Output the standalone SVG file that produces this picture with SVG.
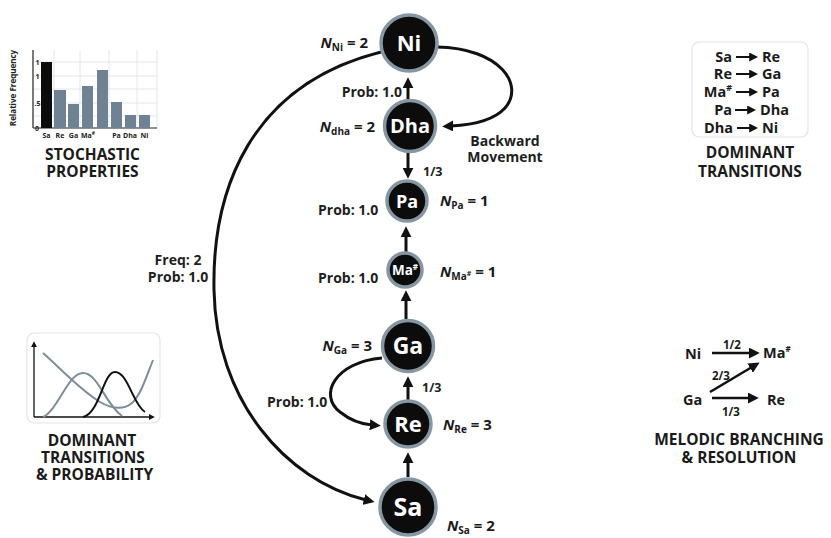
<svg xmlns="http://www.w3.org/2000/svg" width="831" height="538" viewBox="0 0 831 538">
  <defs>
    <style>
      text { font-family: "Open Sans", "Liberation Sans", sans-serif; font-weight: 700; }
      .lbl { font-size: 14px; fill: #1e1e1e; }
      .nlab { font-size: 15px; fill: #1a1a1a; }
      .nlab .it { font-style: italic; }
      .sub { font-size: 10px; }
      .title { font-size: 15.5px; fill: #1a1a1a; text-anchor: middle; }
      .node circle { fill: #0c0c0c; stroke: #8796a3; stroke-width: 3.5; }
      .node text { fill: #ffffff; text-anchor: middle; }
      .edge { fill: none; stroke: #111; stroke-width: 3; }
      .bar { fill: #6e8293; }
      .grid { stroke: #e2e6ea; stroke-width: 1; }
      .panel { fill: #ffffff; stroke: #e4e4e4; stroke-width: 1.2; }
      .side { font-size: 14.5px; fill: #1a1a1a; }
      .small { font-size: 11.5px; fill: #1a1a1a; }
    </style>
    <marker id="head" viewBox="0 0 10 10" refX="2" refY="5" markerWidth="11" markerHeight="11" markerUnits="userSpaceOnUse" orient="auto">
      <path d="M0,0 L10,5 L0,10 z" fill="#111"/>
    </marker>
    <marker id="headSm" viewBox="0 0 10 10" refX="2" refY="5" markerWidth="9" markerHeight="9" markerUnits="userSpaceOnUse" orient="auto">
      <path d="M0,0 L10,5 L0,10 z" fill="#111"/>
    </marker>
    <marker id="axisHead" viewBox="0 0 10 10" refX="2" refY="5" markerWidth="6" markerHeight="6" markerUnits="userSpaceOnUse" orient="auto">
      <path d="M0,0 L10,5 L0,10 z" fill="#111"/>
    </marker>
  </defs>

  <rect width="831" height="538" fill="#ffffff"/>

  <!-- Bar chart: stochastic properties -->
  <g id="stochastic-properties">
    <g class="grid">
      <line x1="33" y1="62" x2="157" y2="62"/>
      <line x1="33" y1="76" x2="157" y2="76"/>
      <line x1="33" y1="89" x2="157" y2="89"/>
      <line x1="33" y1="103" x2="157" y2="103"/>
      <line x1="33" y1="116" x2="157" y2="116"/>
      <line x1="54" y1="50" x2="54" y2="128"/>
      <line x1="80" y1="50" x2="80" y2="128"/>
      <line x1="109" y1="50" x2="109" y2="128"/>
      <line x1="137" y1="50" x2="137" y2="128"/>
      <line x1="157" y1="50" x2="157" y2="128"/>
    </g>
    <line x1="33" y1="50" x2="33" y2="128" stroke="#222" stroke-width="1.2"/>
    <line x1="33" y1="128" x2="157" y2="128" stroke="#222" stroke-width="1.2"/>
    <rect x="41" y="62" width="11" height="66" fill="#0c0c0c"/>
    <rect class="bar" x="54" y="90" width="12" height="38"/>
    <rect class="bar" x="68" y="104" width="11" height="24"/>
    <rect class="bar" x="82" y="86" width="11" height="42"/>
    <rect class="bar" x="97" y="70" width="11" height="58"/>
    <rect class="bar" x="111" y="102" width="11" height="26"/>
    <rect class="bar" x="125" y="115" width="11" height="13"/>
    <rect class="bar" x="139" y="115" width="11" height="13"/>
    <g font-size="7" fill="#222">
      <text x="35.5" y="65">1</text>
      <text x="35.5" y="79">1</text>
      <text x="34.5" y="106">.5</text>
      <text x="35" y="131">0</text>
    </g>
    <g font-size="7" fill="#222" text-anchor="middle">
      <text x="46.5" y="138">Sa</text>
      <text x="60" y="138">Re</text>
      <text x="73.5" y="138">Ga</text>
      <text x="88" y="138">Ma<tspan font-size="5" dy="-3">#</tspan></text>
      <text x="116.5" y="138">Pa</text>
      <text x="130" y="138">Dha</text>
      <text x="144.5" y="138">Ni</text>
    </g>
    <text transform="translate(16,88) rotate(-90)" font-size="8" fill="#222" text-anchor="middle">Relative Frequency</text>
    <text class="title" x="92.5" y="160">STOCHASTIC</text>
    <text class="title" x="92.5" y="177">PROPERTIES</text>
  </g>

  <!-- Curves panel: dominant transitions & probability -->
  <g id="dominant-probability">
    <rect class="panel" x="27" y="333" width="133" height="90" rx="7"/>
    <line x1="34" y1="417" x2="34" y2="346" stroke="#111" stroke-width="1.3" marker-end="url(#axisHead)"/>
    <line x1="34" y1="417" x2="150" y2="417" stroke="#111" stroke-width="1.3" marker-end="url(#axisHead)"/>
    <path d="M43,353 C60,368 80,390 100,402 C112,409 124,410 132,403 C141,395 147,375 153,360" fill="none" stroke="#7d8e9b" stroke-width="2"/>
    <path d="M43,417 C58,410 68,373 83,373 C98,373 105,404 122,416" fill="none" stroke="#7d8e9b" stroke-width="2"/>
    <path d="M83,417 C100,413 103,372 115,372 C128,372 133,405 145,412" fill="none" stroke="#111" stroke-width="2"/>
    <text class="title" x="92" y="446">DOMINANT</text>
    <text class="title" x="93" y="463">TRANSITIONS</text>
    <text class="title" x="94.5" y="480">&amp; PROBABILITY</text>
  </g>

  <!-- Transition list panel -->
  <g id="dominant-transitions">
    <rect class="panel" x="692" y="42" width="116" height="95" rx="7"/>
    <g class="side" text-anchor="end">
      <text x="732" y="62">Sa</text>
      <text x="732" y="79">Re</text>
      <text x="732" y="97">Ma<tspan font-size="9" dy="-6">#</tspan></text>
      <text x="732" y="115">Pa</text>
      <text x="733" y="133">Dha</text>
    </g>
    <g class="side">
      <text x="762" y="62">Re</text>
      <text x="762" y="79">Ga</text>
      <text x="762" y="97">Pa</text>
      <text x="760" y="115">Dha</text>
      <text x="762" y="133">Ni</text>
    </g>
    <g stroke="#111" stroke-width="2" fill="none">
      <line x1="736" y1="57" x2="751" y2="57" marker-end="url(#headSm)"/>
      <line x1="736" y1="74" x2="751" y2="74" marker-end="url(#headSm)"/>
      <line x1="736" y1="92" x2="751" y2="92" marker-end="url(#headSm)"/>
      <line x1="735" y1="110" x2="749" y2="110" marker-end="url(#headSm)"/>
      <line x1="737" y1="128" x2="751" y2="128" marker-end="url(#headSm)"/>
    </g>
    <text class="title" x="750" y="158">DOMINANT</text>
    <text class="title" x="750" y="177">TRANSITIONS</text>
  </g>

  <!-- Branching panel -->
  <g id="melodic-branching">
    <g class="side" font-size="14">
      <text x="685" y="359">Ni</text>
      <text x="763" y="358">Ma<tspan font-size="8" dy="-6">#</tspan></text>
      <text x="683" y="405">Ga</text>
      <text x="767" y="405">Re</text>
    </g>
    <g class="small" text-anchor="middle">
      <text x="732" y="349">1/2</text>
      <text x="721" y="380">2/3</text>
      <text x="731" y="416">1/3</text>
    </g>
    <g stroke="#111" stroke-width="2.6" fill="none">
      <line x1="712" y1="353" x2="751" y2="353" marker-end="url(#head)"/>
      <line x1="710" y1="392" x2="752" y2="367" marker-end="url(#head)"/>
      <line x1="712" y1="398" x2="750" y2="398" marker-end="url(#head)"/>
    </g>
    <text class="title" x="739" y="445">MELODIC BRANCHING</text>
    <text class="title" x="739" y="463">&amp; RESOLUTION</text>
  </g>

  <!-- Connectors between notes -->
  <g id="connectors">
    <line class="edge" x1="408" y1="99" x2="408" y2="86" marker-end="url(#head)"/>
    <line class="edge" x1="408" y1="153" x2="408" y2="170" marker-end="url(#head)"/>
    <line class="edge" x1="406" y1="252" x2="406" y2="235" marker-end="url(#head)"/>
    <line class="edge" x1="406" y1="319" x2="406" y2="299" marker-end="url(#head)"/>
    <line class="edge" x1="408" y1="400" x2="408" y2="385" marker-end="url(#head)"/>
    <line class="edge" x1="408" y1="477" x2="408" y2="461" marker-end="url(#head)"/>
    <path class="edge" d="M437,47 C500,48 525,85 505,108 C494,120 472,125 451,126" marker-end="url(#head)"/>
    <path class="edge" d="M381,52 C250,85 212,190 214,290 C216,400 285,480 366,500" marker-end="url(#head)"/>
    <path class="edge" d="M382,358 C335,362 318,395 340,412 C350,420 360,424 372,425" marker-end="url(#head)"/>
  </g>

  <!-- Edge labels -->
  <g id="edge-labels" class="lbl">
    <text x="402" y="97" text-anchor="end">Prob: 1.0</text>
    <text x="423" y="176" font-size="12.5">1/3</text>
    <text x="318" y="215">Prob: 1.0</text>
    <text x="318" y="283">Prob: 1.0</text>
    <text x="422" y="392" font-size="12.5">1/3</text>
    <text x="267" y="407">Prob: 1.0</text>
    <text x="178" y="265" text-anchor="middle">Freq: 2</text>
    <text x="178" y="282" text-anchor="middle">Prob: 1.0</text>
    <text x="505" y="146" text-anchor="middle">Backward</text>
    <text x="505" y="162" text-anchor="middle">Movement</text>
  </g>

  <!-- Occurrence counts -->
  <g id="counts" class="nlab">
    <text x="368" y="48" text-anchor="end"><tspan class="it">N</tspan><tspan class="sub" dy="3">Ni</tspan><tspan dy="-3"> = 2</tspan></text>
    <text x="375" y="132" text-anchor="end"><tspan class="it">N</tspan><tspan class="sub" dy="3">dha</tspan><tspan dy="-3"> = 2</tspan></text>
    <text x="440" y="206"><tspan class="it">N</tspan><tspan class="sub" dy="3">Pa</tspan><tspan dy="-3"> = 1</tspan></text>
    <text x="440" y="277"><tspan class="it">N</tspan><tspan class="sub" dy="3">Ma</tspan><tspan font-size="7" dy="-4">#</tspan><tspan dy="1"> = 1</tspan></text>
    <text x="372" y="351" text-anchor="end"><tspan class="it">N</tspan><tspan class="sub" dy="3">Ga</tspan><tspan dy="-3"> = 3</tspan></text>
    <text x="443" y="430"><tspan class="it">N</tspan><tspan class="sub" dy="3">Re</tspan><tspan dy="-3"> = 3</tspan></text>
    <text x="447" y="531"><tspan class="it">N</tspan><tspan class="sub" dy="3">Sa</tspan><tspan dy="-3"> = 2</tspan></text>
  </g>

  <!-- Note nodes -->
  <g id="node-ni" class="node">
    <circle cx="409" cy="43" r="28"/>
    <text x="409" y="51" font-size="22">Ni</text>
  </g>
  <g id="node-dha" class="node">
    <circle cx="410" cy="126" r="25.5"/>
    <text x="410" y="133" font-size="20">Dha</text>
  </g>
  <g id="node-pa" class="node">
    <circle cx="407" cy="201" r="20"/>
    <text x="407" y="207.5" font-size="18">Pa</text>
  </g>
  <g id="node-ma" class="node">
    <circle cx="405" cy="270" r="17"/>
    <text x="405" y="275" font-size="13.5">Ma<tspan font-size="8" dy="-5">#</tspan></text>
  </g>
  <g id="node-ga" class="node">
    <circle cx="408" cy="346" r="25.5"/>
    <text x="408" y="354" font-size="23">Ga</text>
  </g>
  <g id="node-re" class="node">
    <circle cx="408" cy="424" r="23"/>
    <text x="408" y="432" font-size="22">Re</text>
  </g>
  <g id="node-sa" class="node">
    <circle cx="408" cy="507" r="28"/>
    <text x="408" y="516" font-size="25">Sa</text>
  </g>
</svg>
